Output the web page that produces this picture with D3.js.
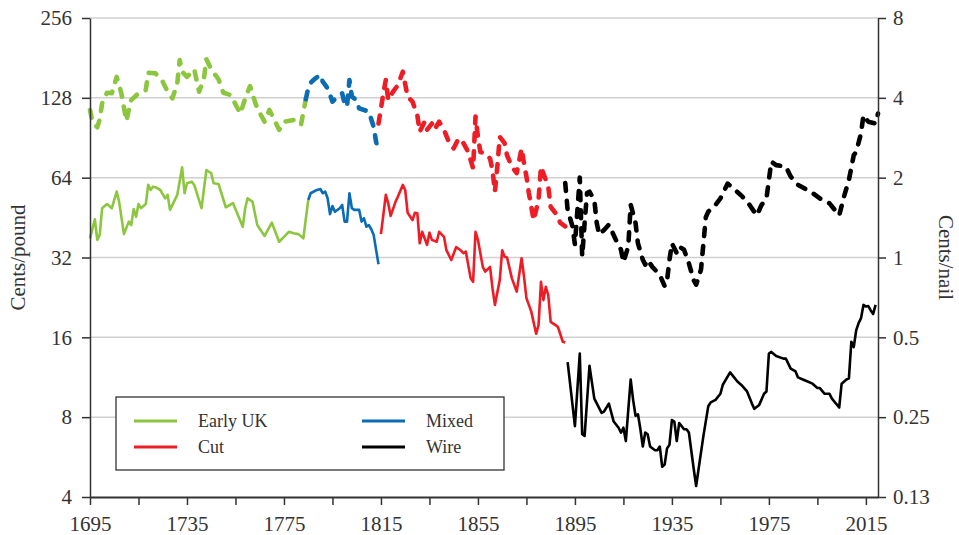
<!DOCTYPE html>
<head>
  <meta charset="utf-8">
  <style>
  body {
    margin: 0;
    background: #fff;
  }

  svg {
    display: block;
    font-family: "Liberation Serif", "Times New Roman", "DejaVu Serif", serif;
  }

  .grid line {
    stroke: #d0d0d0;
    stroke-width: 1.5px;
  }

  .axis path,
  .axis line {
    stroke: #333;
    stroke-width: 1.5px;
  }

  .axis--x path {
    stroke-width: 2px;
  }

  .axis text {
    font-family: "Liberation Serif", "Times New Roman", "DejaVu Serif", serif;
    font-size: 21px;
    fill: #333;
  }

  .line {
    fill: none;
    stroke-width: 2.6px;
    stroke-linejoin: round;
  }

  .line--nail {
    stroke-width: 4.6px;
    stroke-dasharray: 8, 10;
    stroke-linecap: round;
  }

  .title {
    font-size: 21px;
    fill: #333;
  }

  .legend text {
    font-size: 18px;
    fill: #333;
  }
</style>
</head>
<svg class="chart" width="959" height="535"></svg>

<script src="https://cdn.jsdelivr.net/npm/d3@7"></script>
<script>
// [year, cents per pound] -- solid lines, left axis
var earlyUkPound = [[1695,37.8],[1697,44.6],[1698,37.3],[1699,38.9],[1700,49.1],[1702,50.9],[1704,49.1],[1706,56.7],[1707,52.0],[1709,39.2],[1711,43.7],[1712,42.4],[1713,48.7],[1714,45.6],[1715,50.9],[1716,49.1],[1718,50.9],[1719,60.1],[1720,57.5],[1721,59.2],[1722,58.9],[1724,57.5],[1726,53.5],[1727,55.1],[1728,48.4],[1731,55.1],[1733,70.0],[1734,55.9],[1735,61.0],[1737,61.8],[1738,60.1],[1741,49.1],[1743,68.4],[1745,66.5],[1746,61.0],[1748,60.6],[1751,49.5],[1754,51.3],[1758,41.8],[1759,49.1],[1760,53.5],[1762,52.0],[1764,42.4],[1767,38.6],[1770,43.3],[1773,36.7],[1775,38.3],[1777,40.0],[1779,39.5],[1781,39.2],[1783,37.8],[1785,52.7]];
var mixedPound = [[1785,52.7],[1786,55.9],[1788,57.2],[1790,58.0],[1791,55.9],[1792,56.7],[1793,53.5],[1794,46.6],[1795,50.0],[1796,47.6],[1798,49.1],[1799,50.5],[1800,43.7],[1801,43.7],[1802,55.9],[1803,49.1],[1804,48.4],[1806,48.4],[1807,43.7],[1808,45.0],[1809,41.8],[1810,42.4],[1811,40.9],[1812,38.9],[1813,34.2],[1814,30.2]];
var cutPound = [[1815,39.2],[1817,55.1],[1818,51.2],[1819,45.9],[1821,51.9],[1822,54.3],[1824,60.1],[1825,57.5],[1826,47.2],[1828,44.3],[1829,47.2],[1830,47.0],[1831,36.2],[1832,40.0],[1834,35.7],[1835,39.7],[1836,37.3],[1838,36.7],[1839,40.0],[1841,38.3],[1842,34.1],[1844,31.3],[1846,35.0],[1848,34.0],[1849,33.2],[1850,33.7],[1852,26.7],[1853,25.9],[1854,40.0],[1855,37.3],[1857,29.5],[1858,28.3],[1860,29.5],[1861,24.5],[1862,21.2],[1864,26.3],[1865,34.1],[1866,32.2],[1867,32.0],[1869,26.7],[1871,23.8],[1873,31.8],[1874,27.1],[1875,22.5],[1877,20.0],[1879,16.5],[1880,17.8],[1881,25.9],[1882,22.1],[1883,24.8],[1884,23.1],[1885,18.3],[1887,17.8],[1888,17.5],[1890,15.4],[1891,15.3]];
var wirePound = [[1892,12.9],[1895,7.4],[1897,13.9],[1898,6.9],[1899,6.8],[1901,12.5],[1903,9.4],[1906,8.3],[1907,8.4],[1909,9.0],[1911,7.7],[1913,7.3],[1914,7.0],[1915,7.3],[1916,6.5],[1918,11.1],[1919,9.3],[1920,8.1],[1921,8.2],[1922,7.2],[1923,6.2],[1924,7.0],[1925,6.9],[1926,6.2],[1928,6.0],[1929,6.0],[1930,6.2],[1931,5.2],[1932,5.3],[1933,6.1],[1934,6.3],[1935,7.8],[1936,7.7],[1937,6.5],[1938,7.6],[1939,7.4],[1940,7.2],[1941,7.2],[1942,7.0],[1944,5.1],[1945,4.4],[1946,5.1],[1948,6.8],[1950,8.8],[1951,9.1],[1953,9.3],[1955,9.8],[1956,10.6],[1959,11.8],[1960,11.5],[1962,10.9],[1964,10.5],[1966,10.0],[1968,9.0],[1969,8.6],[1971,8.9],[1973,9.8],[1974,10.0],[1975,13.9],[1976,14.1],[1978,13.6],[1981,13.3],[1982,13.3],[1984,12.2],[1986,11.9],[1987,11.3],[1989,11.1],[1990,11.0],[1993,10.7],[1995,10.3],[1996,10.3],[1998,9.8],[2000,9.8],[2001,9.4],[2004,8.7],[2005,10.7],[2007,11.1],[2008,11.2],[2009,15.4],[2010,14.7],[2011,17.0],[2012,18.1],[2013,18.9],[2014,21.2],[2015,20.9],[2016,21.0],[2017,20.2],[2018,19.6],[2019,21.2]];

// [year, cents per nail] -- dashed lines, right axis
var earlyUkNail = [[1695,3.60],[1696,3.25],[1698,3.10],[1699,3.32],[1700,3.81],[1702,4.18],[1704,4.16],[1706,4.80],[1707,4.47],[1708,4.13],[1710,3.27],[1711,3.60],[1712,3.92],[1715,4.16],[1718,4.28],[1719,4.97],[1722,4.95],[1725,4.60],[1727,4.22],[1729,3.98],[1731,4.54],[1732,5.55],[1733,5.02],[1735,4.80],[1738,5.12],[1740,4.22],[1742,4.74],[1743,5.59],[1745,5.12],[1748,4.70],[1750,4.18],[1753,4.10],[1757,3.49],[1759,3.98],[1761,4.43],[1763,3.87],[1764,3.65],[1767,3.25],[1769,3.60],[1773,3.03],[1775,3.25],[1779,3.30],[1782,3.16],[1784,3.95]];
var mixedNail = [[1784,3.95],[1785,4.35],[1786,4.56],[1788,4.74],[1790,4.88],[1791,4.60],[1793,4.35],[1795,3.87],[1797,4.04],[1799,4.16],[1800,3.81],[1801,3.70],[1802,4.67],[1803,4.04],[1805,3.92],[1806,3.65],[1808,3.60],[1810,3.55],[1812,3.11],[1813,2.73],[1814,2.53]];
var cutNail = [[1814,3.20],[1816,4.16],[1817,4.67],[1818,3.92],[1820,4.22],[1822,4.47],[1824,5.02],[1826,4.04],[1828,3.87],[1829,3.65],[1830,3.44],[1831,2.98],[1833,3.25],[1834,3.03],[1836,3.20],[1837,3.03],[1839,3.25],[1841,3.03],[1843,2.73],[1845,2.58],[1847,2.81],[1849,2.70],[1851,2.50],[1852,2.33],[1853,2.17],[1854,3.40],[1855,2.85],[1856,2.50],[1858,2.47],[1860,2.36],[1861,2.14],[1862,1.77],[1863,2.20],[1864,2.85],[1866,2.70],[1867,2.43],[1869,2.20],[1871,2.08],[1873,2.58],[1874,2.26],[1875,2.02],[1876,1.75],[1878,1.38],[1880,1.65],[1881,2.20],[1883,1.96],[1884,1.85],[1885,1.55],[1887,1.47],[1889,1.35],[1891,1.31]];
var wireNail = [[1891,1.91],[1892,1.51],[1894,1.31],[1895,1.12],[1897,2.00],[1898,1.01],[1899,1.35],[1900,1.75],[1901,1.77],[1903,1.65],[1904,1.35],[1905,1.22],[1907,1.27],[1909,1.33],[1912,1.16],[1914,1.07],[1915,0.96],[1917,1.10],[1918,1.58],[1920,1.35],[1921,1.13],[1923,0.98],[1924,0.94],[1925,0.98],[1927,0.92],[1929,0.88],[1930,0.86],[1932,0.78],[1933,0.82],[1934,0.98],[1935,1.13],[1937,1.04],[1938,1.10],[1940,1.07],[1942,0.95],[1944,0.82],[1945,0.79],[1947,0.90],[1948,1.13],[1949,1.42],[1950,1.49],[1953,1.58],[1955,1.67],[1958,1.90],[1961,1.80],[1964,1.70],[1967,1.58],[1970,1.44],[1972,1.58],[1974,1.67],[1975,1.96],[1976,2.30],[1978,2.23],[1982,2.20],[1984,2.02],[1987,1.88],[1993,1.75],[1996,1.67],[2000,1.60],[2004,1.44],[2006,1.70],[2008,1.96],[2010,2.43],[2011,2.50],[2013,2.94],[2014,3.44],[2016,3.25],[2019,3.20],[2020,3.49]];

var seriesNames = ["Early UK", "Mixed", "Cut", "Wire"];
var seriesColors = ["#8cc63f", "#0b6cb3", "#ee1c25", "#000000"];

var poundTicks = [4, 8, 16, 32, 64, 128, 256];
var nailTicks = [0.125, 0.25, 0.5, 1, 2, 4, 8];
var nailTickLabels = ["0.13", "0.25", "0.5", "1", "2", "4", "8"];
var yearTicks = d3.range(1695, 2016, 20);

var svg = d3.select("svg"),
  margin = { top: 18, right: 81, bottom: 38, left: 90 },
  width = +svg.attr("width") - margin.left - margin.right,
  height = +svg.attr("height") - margin.top - margin.bottom,
  g = svg
    .append("g")
    .attr("transform", "translate(" + margin.left + "," + margin.top + ")");

var x = d3.scaleLinear().domain([1695, 2020]).range([0, width]),
  yPound = d3.scaleLog().base(2).domain([4, 256]).range([height, 0]),
  yNail = d3.scaleLog().base(2).domain([0.125, 8]).range([height, 0]),
  color = d3.scaleOrdinal().domain(seriesNames).range(seriesColors);

// gridlines
g.append("g")
  .attr("class", "grid")
  .selectAll("line")
  .data(poundTicks.slice(1))
  .enter()
  .append("line")
  .attr("x1", 0)
  .attr("x2", width)
  .attr("y1", function(d) { return yPound(d); })
  .attr("y2", function(d) { return yPound(d); });

var series = [
  { id: "Early UK", pound: earlyUkPound, nail: earlyUkNail },
  { id: "Mixed", pound: mixedPound, nail: mixedNail },
  { id: "Cut", pound: cutPound, nail: cutNail },
  { id: "Wire", pound: wirePound, nail: wireNail }
];

var linePound = d3.line()
  .x(function(d) { return x(d[0]); })
  .y(function(d) { return yPound(d[1]); });

var lineNail = d3.line()
  .x(function(d) { return x(d[0]); })
  .y(function(d) { return yNail(d[1]); });

var s = g.selectAll(".series")
  .data(series)
  .enter()
  .append("g")
  .attr("class", "series");

s.append("path")
  .attr("class", "line")
  .attr("d", function(d) { return linePound(d.pound); })
  .style("stroke", function(d) { return color(d.id); });

s.append("path")
  .attr("class", "line line--nail")
  .attr("d", function(d) { return lineNail(d.nail); })
  .style("stroke", function(d) { return color(d.id); });

// axes
g.append("g")
  .attr("class", "axis axis--y")
  .call(d3.axisLeft(yPound).tickValues(poundTicks).tickFormat(d3.format("d")).tickSize(8).tickSizeOuter(0).tickPadding(10))
  .attr("font-family", null)
  .attr("font-size", null);

g.append("g")
  .attr("class", "axis axis--y2")
  .attr("transform", "translate(" + width + ",0)")
  .call(d3.axisRight(yNail).tickValues(nailTicks).tickFormat(function(d, i) { return nailTickLabels[i]; }).tickSize(8).tickSizeOuter(0).tickPadding(7))
  .attr("font-family", null)
  .attr("font-size", null);

g.append("g")
  .attr("class", "axis axis--x")
  .attr("transform", "translate(0," + height + ")")
  .call(d3.axisBottom(x).tickValues(yearTicks).tickFormat(function(d) { return (d - 1695) % 40 === 0 ? d : ""; }).tickSize(8).tickSizeOuter(0).tickPadding(11))
  .attr("font-family", null)
  .attr("font-size", null);

// axis titles
svg.append("text")
  .attr("class", "title")
  .attr("transform", "translate(25," + (margin.top + height / 2) + ") rotate(-90)")
  .attr("text-anchor", "middle")
  .text("Cents/pound");

svg.append("text")
  .attr("class", "title")
  .attr("transform", "translate(939," + (margin.top + height / 2) + ") rotate(90)")
  .attr("text-anchor", "middle")
  .text("Cents/nail");

// legend
var legend = svg.append("g")
  .attr("class", "legend")
  .attr("transform", "translate(116,397)");

legend.append("rect")
  .attr("width", 388)
  .attr("height", 73)
  .attr("fill", "#fff")
  .attr("stroke", "#333")
  .attr("stroke-width", 1.3);

var legendOrder = ["Early UK", "Cut", "Mixed", "Wire"];

var item = legend.selectAll(".item")
  .data(legendOrder)
  .enter()
  .append("g")
  .attr("class", "item")
  .attr("transform", function(d, i) {
    return "translate(" + (i < 2 ? 18 : 246) + "," + (24 + (i % 2) * 26) + ")";
  });

item.append("line")
  .attr("x1", 0)
  .attr("x2", 43)
  .attr("stroke-width", 2.8)
  .attr("stroke", function(d) { return color(d); });

item.append("text")
  .attr("x", 64)
  .attr("dy", "0.35em")
  .text(function(d) { return d; });
</script>
